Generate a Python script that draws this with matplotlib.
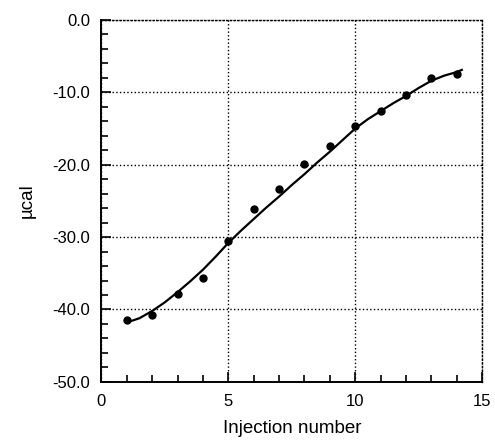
import matplotlib
matplotlib.use('Agg')
from matplotlib import pyplot as plt
from matplotlib.ticker import MultipleLocator, FixedLocator

plt.rcParams['font.family'] = ['Liberation Sans', 'DejaVu Sans']

# measured heats per injection
injection = [1, 2, 3, 4, 5, 6, 7, 8, 9, 10, 11, 12, 13, 14]
heat = [-41.5, -40.7, -37.8, -35.6, -30.5, -26.1, -23.4, -19.9, -17.4,
        -14.6, -12.6, -10.4, -8.0, -7.4]

# fitted curve
fit_x = [1.0, 1.5, 2, 2.5, 3, 3.5, 4, 4.5, 5, 5.5, 6, 6.5, 7, 7.5, 8, 8.5,
         9, 9.5, 10, 10.5, 11, 11.5, 12, 12.5, 13, 13.5, 14, 14.2]
fit_y = [-41.8, -41.2, -40.2, -39.0, -37.6, -36.1, -34.5, -32.7, -30.8,
         -29.1, -27.5, -25.9, -24.4, -22.8, -21.3, -19.7, -18.2, -16.6,
         -15.0, -13.7, -12.6, -11.5, -10.5, -9.4, -8.4, -7.7, -7.2, -6.9]

fig = plt.figure(figsize=(4.95, 4.43), dpi=100)
ax = fig.add_axes([0.205, 0.138, 0.769, 0.817])

ax.plot(fit_x, fit_y, color='black', lw=1.6)
ax.plot(injection, heat, 'o', color='black', ms=5)

ax.set_xlim(0, 15)
ax.set_ylim(-50, 0)
ax.xaxis.set_major_locator(FixedLocator([0, 5, 10, 15]))
ax.xaxis.set_minor_locator(MultipleLocator(1))
ax.yaxis.set_major_locator(MultipleLocator(10))
ax.yaxis.set_minor_locator(MultipleLocator(2))
ax.set_yticklabels(['{:.1f}'.format(v) for v in ax.get_yticks()])

ax.tick_params(which='both', direction='in', top=False, right=False,
               labelsize=12, width=1.2)
ax.tick_params(which='major', length=7)
ax.tick_params(axis='x', which='major', pad=9)
ax.tick_params(axis='y', which='major', pad=8)
ax.tick_params(which='minor', length=5)

ax.grid(True, which='major', linestyle=':', color='black', lw=1)
for s in ['top', 'right']:
    ax.spines[s].set_linestyle(':')
    ax.spines[s].set_linewidth(1)
for s in ['left', 'bottom']:
    ax.spines[s].set_linewidth(1.4)

ax.set_xlabel('Injection number', fontsize=13.5, labelpad=8)
ax.set_ylabel('\u00b5cal', fontsize=13.5, labelpad=12)

fig.savefig('out.png', dpi=100)
